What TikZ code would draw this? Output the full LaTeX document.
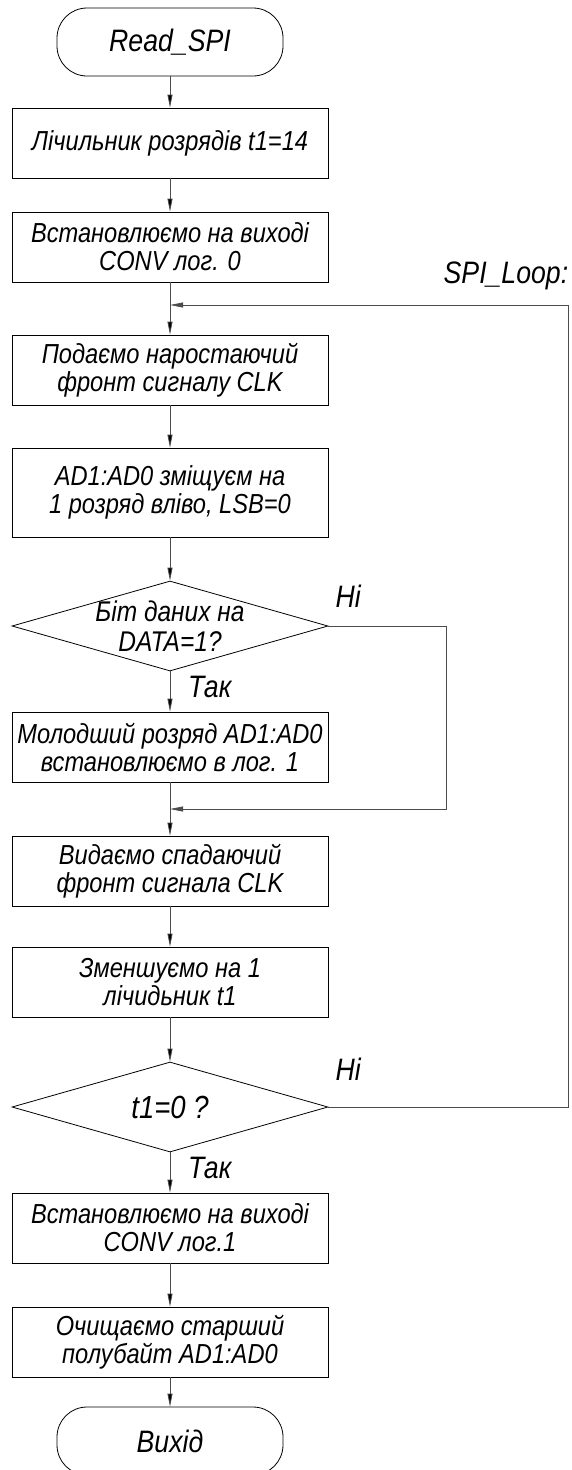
\documentclass[tikz,border=0pt]{standalone}
\usepackage{fontspec}
\setmainfont{Liberation Sans}[FakeStretch=0.86]
\usetikzlibrary{shapes.geometric, arrows.meta, positioning}

\begin{document}
\begin{tikzpicture}[x=1pt,y=1pt,on grid,>={Triangle[length=13pt,width=5pt]},
        every node/.style={font=\fontsize{27.5}{28}\selectfont\itshape},
        block/.style={draw,line width=0.8pt,minimum width=316pt,minimum height=70pt,inner sep=0pt,align=center},
        terminal/.style={draw,line width=0.8pt,rounded corners=30pt,minimum width=226pt,minimum height=68pt,font=\fontsize{31}{34}\selectfont\itshape},
        decision/.style={draw,diamond,line width=0.8pt,minimum width=316pt,minimum height=90pt,inner sep=0pt},
        lbl/.style={font=\fontsize{31}{34}\selectfont\itshape,inner sep=0pt},
        line/.style={draw=black!70,line width=0.8pt}]
    \useasboundingbox (0,0) rectangle (571,-1470);

      \node[terminal] (start) at (170,-42) {Read\_SPI};
      \node[block] (cnt)     [below=101pt of start]   {Лічильник розрядів t1=14};
      \node[block] (conv0)   [below=104pt of cnt]     {Встановлюємо на виході\\CONV лог. 0};
      \node[block] (clkup)   [below=123pt of conv0]   {Подаємо наростаючий\\фронт сигналу CLK};
      \node[block,minimum height=89pt] (shift) [below=122.5pt of clkup] {AD1:AD0 зміщуєм на\\1 розряд вліво, LSB=0};
      \node[decision,label={[align=center,font=\fontsize{28.5}{30}\selectfont\itshape]center:Біт даних на\\DATA=1?}] (bit) [below=133.5pt of shift] {};
      \node[block] (setlsb)  [below=121pt of bit]     {Молодший розряд AD1:AD0\\встановлюємо в лог. 1};
      \node[block] (clkdown) [below=124pt of setlsb]  {Видаємо спадаючий\\фронт сигнала CLK};
      \node[block] (dec)     [below=111pt of clkdown] {Зменшуємо на 1\\лічидьник t1};
      \node[decision,label={[font=\fontsize{32}{34}\selectfont\itshape]center:t1=0 ?}] (zero) [below=125pt of dec] {};
      \node[block] (conv1)   [below=121pt of zero]    {Встановлюємо на виході\\CONV лог.1};
      \node[block] (clr)     [below=114pt of conv1]   {Очищаємо старший\\полубайт AD1:AD0};
      \node[terminal] (exit) [below=99pt of clr]      {Вихід};

      \coordinate (m1) at ([yshift=-58pt]conv0.center);
      \coordinate (m2) at ([yshift=-62pt]setlsb.center);
      \coordinate (back) at ([xshift=240pt]zero.east);
      \coordinate (skip) at ([xshift=118pt]bit.east);

      \node[lbl,anchor=base west] (no1)  at ([shift={(7,19)}]bit.east)    {Ні};
      \node[lbl,anchor=base west] (yes1) at ([shift={(18,-26)}]bit.south) {Так};
      \node[lbl,anchor=base west] (no2)  at ([shift={(7,27)}]zero.east)   {Ні};
      \node[lbl,anchor=base west] (yes2) at ([shift={(18,-26)}]zero.south) {Так};
      \node[lbl,anchor=base east] (loop) at ([yshift=22pt]back |- m1)     {SPI\_Loop:};

      \path[line,->] (start) edge (cnt)
                (cnt) edge (conv0)
                (conv0) edge (clkup)
                (clkup) edge (shift)
                (shift) edge (bit)
                (bit) edge (setlsb)
                (setlsb) edge (clkdown)
                (clkdown) edge (dec)
                (dec) edge (zero)
                (zero) edge (conv1)
                (conv1) edge (clr)
                (clr) edge (exit);
      \draw[line,->] (bit.east) -- (skip) |- (m2);
      \draw[line,->] (zero.east) -- (back) |- (m1);
    \end{tikzpicture}
\end{document}
